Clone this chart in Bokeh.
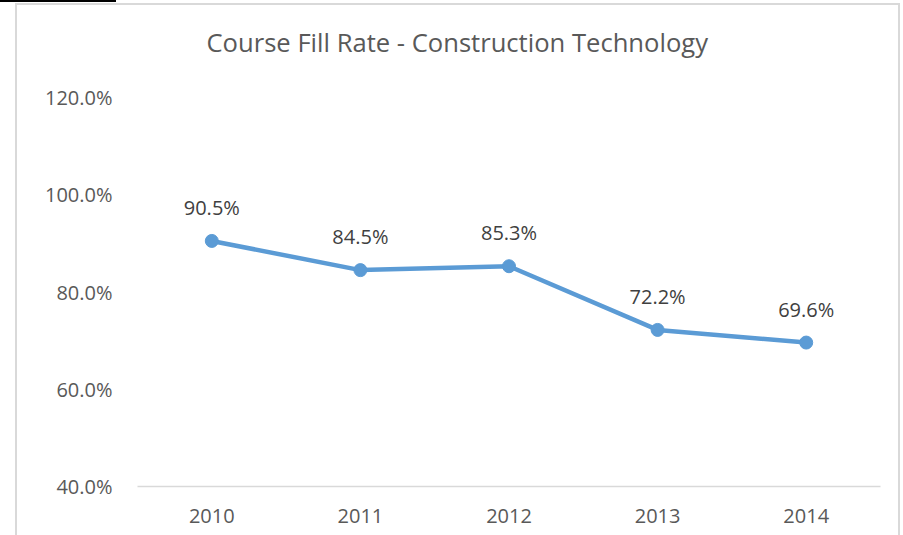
from bokeh.plotting import figure
from bokeh.models import Range1d, FactorRange, ColumnDataSource, LabelSet, Spacer, Title
from bokeh.layouts import column
from bokeh.core.properties import value
from bokeh.embed import file_html
from bokeh.resources import INLINE

years = ["2010", "2011", "2012", "2013", "2014"]
fill_rate = [90.5, 84.5, 85.3, 72.2, 69.6]
labels = ["90.5%", "84.5%", "85.3%", "72.2%", "69.6%"]
y_ticks = [40, 60, 80, 100, 120]

FONT = "Open Sans"
TXT = "#595959"

src = ColumnDataSource(dict(x=years, y=fill_rate, lab=labels))

# chart box starts at (15, 3) in the window
p = figure(width=885, height=532, output_backend="svg", toolbar_location=None,
           x_range=FactorRange(*years, range_padding=0),
           y_range=Range1d(40, 120),
           min_border_left=122, min_border_right=20, min_border_top=94, min_border_bottom=49)
p.margin = (1, 0, 0, 15)
p.border_fill_color = None
p.background_fill_color = None
p.styles = {"box-shadow": "inset 2px 2px 0 #d9d9d9, inset -2px 0 0 #d9d9d9",
            "background-color": "white"}

p.title.text = "Course Fill Rate - Construction Technology"
p.title.text_font = FONT
p.title.text_font_size = "25.6px"
p.title.text_font_style = "normal"
p.title.text_color = TXT
p.title.align = "left"
p.title.offset = 69
p.title.standoff = 10
# empty title used as a spacer between the chart title and the plot area
p.add_layout(Title(text=" ", text_font_size="20px", standoff=9), "above")
p.outline_line_color = None
p.xgrid.grid_line_color = None
p.ygrid.grid_line_color = None

p.yaxis.ticker = y_ticks
p.yaxis.major_label_overrides = {t: f"{t:.1f}%" for t in y_ticks}
p.yaxis.axis_line_color = None
p.yaxis.major_tick_line_color = None
p.yaxis.minor_tick_line_color = None
p.yaxis.major_label_standoff = 19
p.yaxis.major_label_text_font = FONT
p.yaxis.major_label_text_font_size = "20px"
p.yaxis.major_label_text_color = TXT

p.xaxis.axis_line_color = "#d9d9d9"
p.xaxis.axis_line_width = 1.5
p.xaxis.major_tick_line_color = None
p.xaxis.minor_tick_line_color = None
p.xaxis.major_label_standoff = 16
p.xaxis.major_label_text_font = FONT
p.xaxis.major_label_text_font_size = "20px"
p.xaxis.major_label_text_color = TXT

p.line("x", "y", source=src, line_color="#5b9bd5", line_width=4.5)
p.scatter("x", "y", source=src, size=13, fill_color="#5b9bd5", line_color="#5b9bd5")

lbl = LabelSet(x="x", y="y", text="lab", source=src, y_offset=20, text_align="center",
               text_baseline="bottom", text_font=value(FONT), text_font_size="20px",
               text_color="#404040")
p.add_layout(lbl)

top_rule = Spacer(width=116, height=2, styles={"background-color": "black"})
layout = column(top_rule, p, spacing=0)

open("out.html", "w").write(file_html(layout, INLINE))
